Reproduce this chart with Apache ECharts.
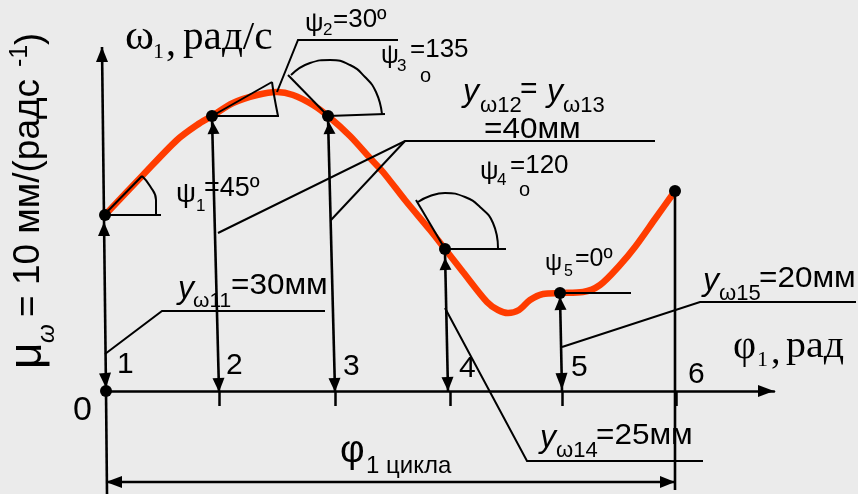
<!DOCTYPE html>
<html><head><meta charset="utf-8">
<style>html,body{margin:0;padding:0;background:#ebebeb}#c{width:858px;height:494px}</style>
<script src="https://cdn.jsdelivr.net/npm/echarts@6/dist/echarts.min.js"></script>
</head><body><div id="c"></div>
<script>
// Drawing units: x along φ1 from the origin, y along ω1 from the origin.
var curve = [[-1,176],[37,216],[71,251],[91,266],[106,275],[127,288],[151,296],[171,299],[187,296],[207,286],[222,275],[244,255],[264,233],[277,219],[299,191],[324,161],[339,142],[357,119],[381,89],[392,81],[402,78],[413,81],[424,91],[437,97],[454,98],[477,99],[494,106],[514,126],[529,144],[549,172],[569,200]];
var keyPoints = [[0,0],[-1,176],[106,275],[222,275],[339,142],[454,98],[569,200]];
var tickValues = [113,229,344,456,570];
var tickLabels = ['0','1','2','3','4','5','6'];

var thinLines = [
 [[-2,176],[36,215]], [[-2,176],[55,176]],
 [[106,275],[166,309]], [[106,275],[173,275]],
 [[222,275],[182,316]], [[222,275],[279,277]],
 [[339,142],[310,191]], [[339,142],[400,142]],
 [[454,98],[525,98]],
 [[171,299],[192,351],[292,351]],
 [[112,158],[299,250],[549,250]],
 [[225,171],[299,250]],
 [[-1,37],[56,80],[219,80]],
 [[456,44],[594,89],[750,89]],
 [[339,83],[421,-70],[597,-70]]
];
var heavyLines = [
 [[569,200],[569,-99]],
 [[-4,344],[0,0]], [[0,0],[1,-103]],
 [[106,273],[113,0]], [[222,273],[229,0]], [[339,139],[342,0]], [[454,95],[456,0]],
 [[0,-91],[569,-91]]
];
var arcs = [
 [[36,215],[44,205],[50,191],[50,176]],
 [[166,309],[168,296],[172,275]],
 [[185,316],[204,328],[224,331],[244,326],[259,314],[270,299],[276,277]],
 [[312,189],[324,195],[339,198],[359,194],[374,184],[387,168],[392,143]]
];
var arrows = [ // tip, tail
 [-4,344,-4,329],
 [-2,169,-2,155],[0,3,-1,18],
 [107,269,107.5,257],[113,-1,112.5,13],
 [223,269,223.5,257],[229,-1,228.5,13],
 [339,133,339.5,121],[342,0,341.5,14],
 [454,94,454.5,81],[456,1,455.5,18],
 [668,0,652,0],
 [0,-91,16,-91],[569,-91,554,-91]
];
var texts = [
 // text, x, y, size, family, style, scaleX
 ['ω',125,38,42,'s','normal',1.05],['1',153,52,22,'s','normal',1],[',',166,44,40,'s','normal',1],['рад/с',183,38,40,'s','normal',1.03],
 ['ψ',305,24,26,'a','normal',1],['2',323,30,17,'a','normal',1],['=30º',333,20,26,'a','normal',1],
 ['ψ',381,56,25,'a','normal',1],['3',397,66,17,'a','normal',1],['=135',410,50,26,'a','normal',1],['o',420,76,20,'a','normal',1],
 ['y',463,92,32,'a','italic',1],['ω12',480,106,22,'a','normal',1],['=',520,90,30,'a','normal',1],['y',547,92,32,'a','italic',1],['ω13',563,106,22,'a','normal',1],
 ['=40мм',484,130,30,'a','normal',1.05],
 ['ψ',480,172,26,'a','normal',1],['4',497,180,17,'a','normal',1],['=120',510,166,26,'a','normal',1],['o',519,190,20,'a','normal',1],
 ['ψ',176,194,28,'a','normal',1],['1',196,206,17,'a','normal',1],['=45º',204,189,27,'a','normal',1],
 ['ψ',545,263,24,'a','normal',1],['5',564,272,16,'a','normal',1],['=0º',575,259,25,'a','normal',1],
 ['y',178,289,32,'a','italic',1],['ω11',193,301,21,'a','normal',1],['=30мм',231,286,30,'a','normal',1.05],
 ['y',703,281,32,'a','italic',1],['ω15',719,294,22,'a','normal',1],['=20мм',759,279,30,'a','normal',1.05],
 ['y',540,438,32,'a','italic',1],['ω14',556,451,22,'a','normal',1],['=25мм',596,436,30,'a','normal',1.05],
 ['φ',733,347,40,'s','normal',1],['1',757,360,22,'s','normal',1],[',',771,353,38,'s','normal',1],['рад',786,347,38,'s','normal',1.05],
 ['φ',340,452,38,'a','normal',1],['1 цикла',366,466,24,'a','normal',1]
];
var tickLabelPos = [[73,411],[117,365],[226,366],[343,367],[459,369],[571,368],[688,375]];
var tickLabelSizes = [34,30,30,30,30,30,30];
var axisTitle = [ // rotated text: text, x, y, size, style
 ['μ',28,369,46,'normal'],['ω',47,343,24,'italic'],['= 10 мм/(радс',29,317,37,'normal'],['-1',20,67,25,'normal'],[')',31,45,36,'normal']
];

var gfx = texts.map(function(t){
 return {type:'text',x:t[1],y:t[2],scaleX:t[6],silent:true,style:{text:t[0],fill:'#000',textAlign:'left',textVerticalAlign:'middle',
  font:t[5]+' '+t[3]+'px '+(t[4]==='s'?'"Liberation Serif"':'"Liberation Sans"')}};
}).concat(tickLabels.map(function(l,i){
 return {type:'text',x:tickLabelPos[i][0],y:tickLabelPos[i][1],silent:true,style:{text:l,fill:'#000',textAlign:'left',textVerticalAlign:'middle',font:tickLabelSizes[i]+'px "Liberation Sans"'}};
})).concat(axisTitle.map(function(t){
 return {type:'text',x:t[1],y:t[2],rotation:Math.PI/2,silent:true,style:{text:t[0],fill:'#000',textAlign:'left',textVerticalAlign:'middle',font:t[4]+' '+t[3]+'px "Liberation Sans"'}};
}));

function polylineSeries(name,list,width){
 return {type:'custom',name:name,silent:true,animation:false,z:3,clip:false,
  data:list.map(function(p,i){return [p[0][0],p[0][1],i];}),
  encode:{x:0,y:1},
  renderItem:function(params,api){
   var pts=list[api.value(2)].map(function(q){return api.coord(q);});
   return {type:'polyline',shape:{points:pts},style:{fill:null,stroke:'#000',lineWidth:width}};
  }};
}
var series = [polylineSeries('leaders',thinLines,2),polylineSeries('ordinates',heavyLines,2.6)];
arcs.forEach(function(p,i){
 series.push({type:'line',symbol:'none',clip:false,silent:true,animation:false,name:'arc'+i,data:p,smooth:0.5,z:3,lineStyle:{color:'#000',width:2}});
});
series.push({type:'line',symbol:'none',clip:false,silent:true,animation:false,name:'ω1',data:curve,smooth:0.3,z:2,lineStyle:{color:'#ff3c00',width:6.5,cap:'round'}});
series.push({type:'scatter',name:'points',data:keyPoints,symbolSize:12,clip:false,silent:true,animation:false,z:5,itemStyle:{color:'#000',opacity:1}});
series.push({type:'custom',name:'arrows',data:arrows,silent:true,animation:false,z:4,clip:false,
 encode:{x:[0,2],y:[1,3]},
 renderItem:function(params,api){
  var a=api.coord([api.value(0),api.value(1)]),b=api.coord([api.value(2),api.value(3)]);
  var dx=b[0]-a[0],dy=b[1]-a[1],L=Math.sqrt(dx*dx+dy*dy),nx=-dy/L*6,ny=dx/L*6;
  return {type:'polygon',shape:{points:[a,[b[0]+nx,b[1]+ny],[b[0]-nx,b[1]-ny]]},style:{fill:'#000'}};
 }});

var chart = echarts.init(document.getElementById('c'),null,{renderer:'canvas'});
chart.setOption({
 animation:false,
 backgroundColor:'#ebebeb',
 grid:{left:106,top:47,width:668,height:344},
 xAxis:{type:'value',min:0,max:668,splitLine:{show:false},
  axisLine:{show:true,onZero:false,lineStyle:{color:'#000',width:2.5}},
  axisTick:{show:true,customValues:tickValues,length:15,lineStyle:{color:'#000',width:2.5}},
  axisLabel:{show:false}},
 yAxis:{type:'value',min:0,max:344,show:false},
 tooltip:{show:false},
 series:series,
 graphic:{elements:gfx}
});
</script></body></html>
